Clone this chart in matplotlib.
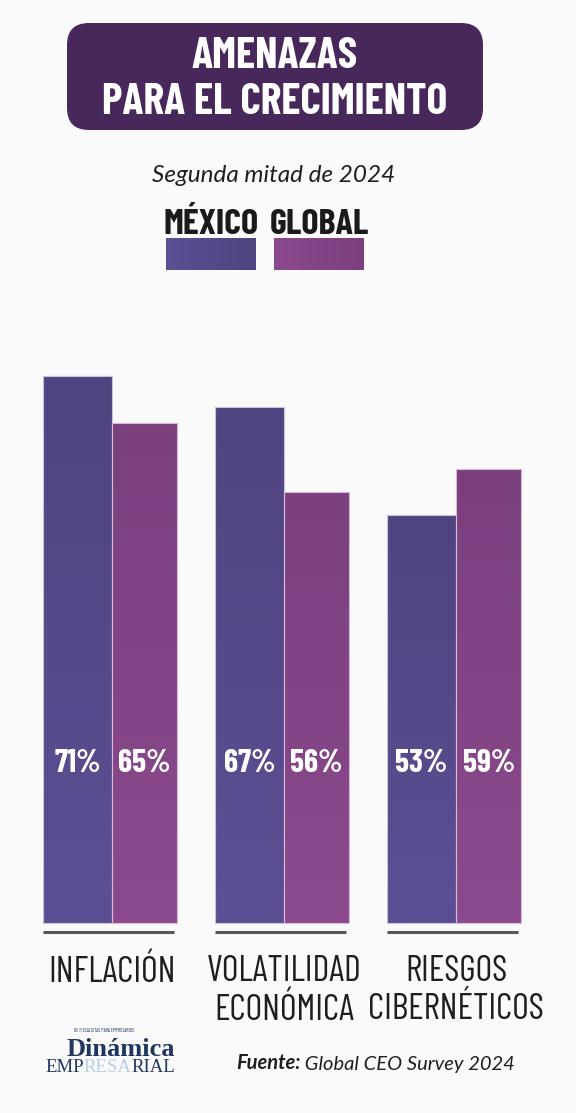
import numpy as np
import matplotlib
matplotlib.use("Agg")
import matplotlib.pyplot as plt
import matplotlib.transforms as mtransforms
from matplotlib.patches import FancyBboxPatch
from matplotlib.colors import LinearSegmentedColormap

# data
categories = ["INFLACIÓN", "VOLATILIDAD\nECONÓMICA", "RIESGOS\nCIBERNÉTICOS"]
mexico = [71, 67, 53]
global_ = [65, 56, 59]
series_names = ["MÉXICO", "GLOBAL"]

COND = ["Barlow Condensed", "DejaVu Sans"]
SANS = ["Lato", "DejaVu Sans"]
SERIF = ["Liberation Serif", "DejaVu Serif"]
BG = "#fafafa"
mx_cmap = LinearSegmentedColormap.from_list("mx", ["#5c4f94", "#4f4480"])
gl_cmap = LinearSegmentedColormap.from_list("gl", ["#8b4a8d", "#7b3f7e"])

fig = plt.figure(figsize=(5.76, 11.13), dpi=100, facecolor=BG)

# overlay in pixel coords for header / footer
ov = fig.add_axes([0, 0, 1, 1], zorder=0)
ov.axis("off")

ov.add_patch(FancyBboxPatch((67 + 22, 23 + 22), 416 - 44, 107 - 44,
                            boxstyle="round,pad=22", fc="#48275a", ec="none"))
ov.text(275, 68, "AMENAZAS", ha="center", va="baseline", color="white",
        fontsize=31.5, fontweight="bold", family=COND)
ov.text(275, 114, "PARA EL CRECIMIENTO", ha="center", va="baseline", color="white",
        fontsize=31.5, fontweight="bold", family=COND)
ov.text(274, 182, "Segunda mitad de 2024", ha="center", va="baseline",
        color="#1e1e1e", fontsize=17.5, style="italic", family=SANS)

# legend
leg_x = [211, 319]
for name, cx, cmap in zip(series_names, leg_x, [mx_cmap, gl_cmap]):
    ov.text(cx, 234, name, ha="center", va="baseline", color="#1a1a1a",
            fontsize=26, fontweight="bold", family=COND)
    grad = np.linspace(0, 1, 64).reshape(1, -1)
    ov.imshow(grad, extent=(cx - 45, cx + 45, 270, 238), cmap=cmap,
              aspect="auto", zorder=2)
ov.set_xlim(0, 576)
ov.set_ylim(1113, 0)

# footer
t1 = ov.text(236, 1069, "Fuente:", ha="left", va="baseline", color="#1e1e1e",
             fontsize=14.5, style="italic", fontweight="bold", family=SANS)
ov.annotate(" Global CEO Survey 2024", xy=(1, 0), xycoords=t1, va="bottom",
            ha="left", color="#1e1e1e", fontsize=14.5, style="italic", family=SANS)

# logo
ov.text(104, 1031, "DE FISCALISTAS PARA EMPRESARIOS", ha="center", va="center",
        color="#1f3660", fontsize=3.6, family=COND)
ov.text(121, 1056, "Dinámica", ha="center", va="baseline", color="#1f3660",
        fontsize=19, fontweight="bold", family=SERIF)
e1 = ov.text(45, 1072, "EMP", ha="left", va="baseline", color="#1f3660",
             fontsize=13.5, family=SERIF)
e2 = ov.annotate("RESA", xy=(1, 0), xycoords=e1, va="bottom", ha="left",
                 color="#b9cde9", fontsize=13.5, family=SERIF)
ov.annotate("RIAL", xy=(1, 0), xycoords=e2, va="bottom", ha="left",
            color="#1f3660", fontsize=13.5, family=SERIF)

# bars
top_px, bot_px = 300, 945
ax = fig.add_axes([0, 1 - bot_px / 1113, 1, (bot_px - top_px) / 1113], zorder=1)
ax.patch.set_alpha(0)
ax.axis("off")
ppu = 7.7
x = np.arange(len(categories))
w = 0.40
bars_mx = ax.bar(x - w, mexico, width=w, align="edge", color="#56498a",
                 edgecolor="#c9c1dd", linewidth=0.8)
bars_gl = ax.bar(x, global_, width=w * 0.95, align="edge", color="#834486",
                 edgecolor="#d9b8da", linewidth=0.8)
for bars, cmap in [(bars_mx, mx_cmap), (bars_gl, gl_cmap)]:
    for b in bars:
        x0, y0 = b.get_x(), b.get_y()
        grad = np.linspace(0, 1, 128).reshape(-1, 1)
        im = ax.imshow(grad, extent=(x0, x0 + b.get_width(), y0, y0 + b.get_height()),
                       cmap=cmap, origin="lower", aspect="auto", zorder=2)
        im.set_clip_path(b)
        b.set_zorder(3)
        b.set_facecolor("none")

ax.set_xlim(-112 / 172, (576 - 112) / 172)
ax.set_ylim(-22 / ppu, (945 - 300 - 22) / ppu)

# rules under each group
ax.hlines(np.full(len(x), -9 / ppu), x - w, x + w * 0.9, color="#555555",
          linewidth=2.2, zorder=3)

# value labels
for bars, vals in [(bars_mx, mexico), (bars_gl, global_)]:
    for b, v in zip(bars, vals):
        ax.text(b.get_x() + b.get_width() / 2, (923 - 763) / ppu, f"{v}%",
                ha="center", va="center", color="white", fontsize=23,
                fontweight="bold", family=COND, zorder=4)

# category labels
trans = mtransforms.blended_transform_factory(ax.transData, fig.transFigure)
for xi, cat in zip(x, categories):
    ax.text(xi, 1 - 955 / 1113, cat, transform=trans, ha="center", va="top",
            color="#1e1e1e", fontsize=26, family=COND, linespacing=1.2)

fig.savefig("out.png", dpi=100, facecolor=BG)
